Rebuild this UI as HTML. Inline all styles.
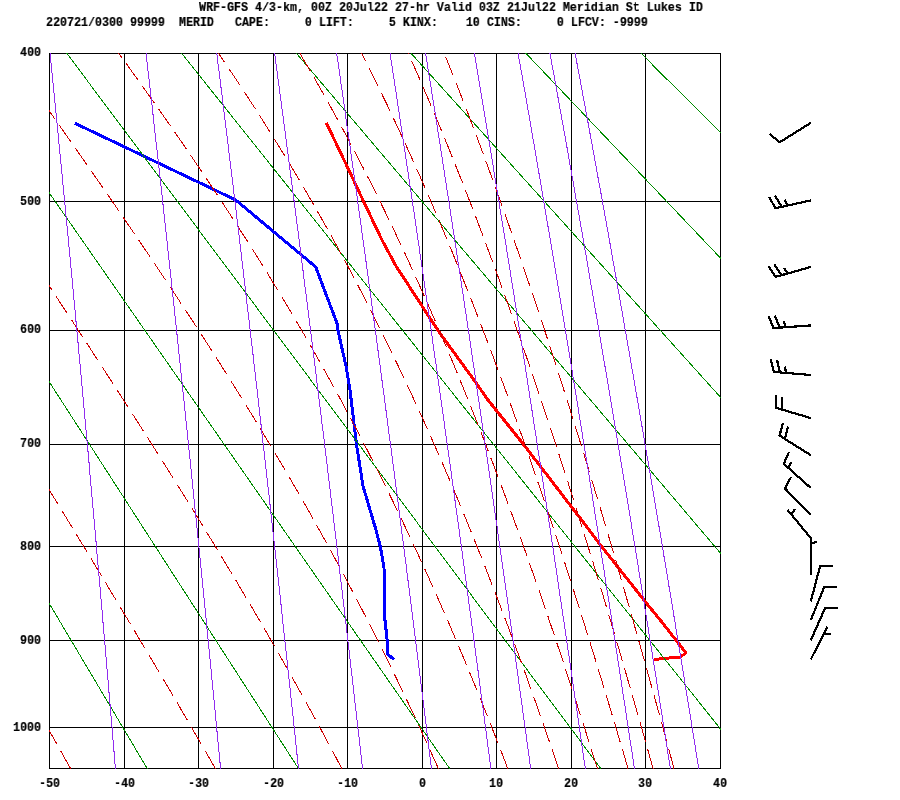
<!DOCTYPE html>
<html><head><meta charset="utf-8"><title>Sounding</title>
<style>
html,body{margin:0;padding:0;background:#fff;}
body{width:900px;height:800px;position:relative;overflow:hidden;font-family:"Liberation Mono",monospace;}
svg{position:absolute;left:0;top:0;}
.t{position:absolute;font-family:"Liberation Mono",monospace;font-weight:bold;font-size:13.6px;line-height:12px;height:12px;white-space:pre;color:#000;transform-origin:0 0;transform:scaleX(0.8578);letter-spacing:0;will-change:transform;-webkit-text-stroke:0.2px #000;}
</style></head><body>

<svg width="900" height="800" viewBox="0 0 900 800" shape-rendering="crispEdges">
<defs><clipPath id="c"><rect x="49" y="53" width="672" height="716"/></clipPath></defs>
<path d="M49 53.5 H721 M49 201.5 H721 M49 330.5 H721 M49 444.5 H721 M49 546.5 H721 M49 640.5 H721 M49 727.5 H721 M49 768.5 H721 M49.5 53 V769 M124.5 53 V769 M198.5 53 V769 M273.5 53 V769 M347.5 53 V769 M422.5 53 V769 M496.5 53 V769 M571.5 53 V769 M645.5 53 V769 M720.5 53 V769" stroke="#000" stroke-width="1" fill="none"/>
<path d="M75.0 123.3 L235.7 200.0 L315.7 266.9 L337.0 323.3 L338.0 330.5 L346.3 367.5 L350.0 390.0 L356.5 444.5 L363.0 486.0 L376.0 530.0 L380.3 546.5 L384.0 567.5 L384.7 617.5 L387.2 640.5 L388.0 654.5 L394.0 659.5" stroke="#0000ff" stroke-width="3" fill="none" stroke-linejoin="round"/>
<path d="M326.4 123.0 L345.0 162.0 L363.6 201.5 L382.0 240.0 L396.0 266.0 L438.0 330.5 L474.0 380.0 L488.0 400.0 L523.6 444.5 L581.6 520.0 L601.6 546.5 L645.5 602.0 L661.0 621.0 L679.0 644.0 L686.0 653.0 L680.0 657.0 L654.4 659.4" stroke="#ff0000" stroke-width="3" fill="none" stroke-linejoin="round"/>
<g clip-path="url(#c)" fill="none" stroke-width="1">
<path d="M-521.5 23.5 L-140.4 798.5 M-408.3 23.5 L12.3 798.5 M-295.1 23.5 L165.0 798.5 M-181.8 23.5 L317.8 798.5 M-68.6 23.5 L470.5 798.5 M44.6 23.5 L623.2 798.5 M157.9 23.5 L775.9 798.5 M271.1 23.5 L928.6 798.5 M384.3 23.5 L1081.4 798.5 M497.6 23.5 L1234.1 798.5 M652.5 65.0 L667.5 80.0 M611.4 23.5 L1387.4 798.5 M724.0 23.5 L1539.5 798.5 M837.3 23.5 L1692.3 798.5 M950.5 23.5 L1845.0 798.5" stroke="#008b00"/>
<path d="M70.7 768.7 L65.6 759.7 L60.7 751.0 M57.0 744.3 L55.5 741.7 L50.5 732.7 L47.0 726.6 M43.3 719.9 L40.3 714.7 L35.3 705.7 L33.3 702.2 M29.5 695.5 L25.1 687.7 L20.1 678.7 L19.5 677.8 M15.8 671.1 L15.0 669.7 L9.9 660.7 L5.8 653.4 M2.0 646.7 L-0.3 642.7 L-5.4 633.7 L-8.0 629.0 M-11.8 622.3 L-15.5 615.7 L-20.6 606.7 L-21.8 604.6 M-25.6 597.9 L-25.7 597.7 L-30.8 588.7 L-35.6 580.3 M-39.4 573.6 L-41.0 570.7 L-46.1 561.7 L-49.4 555.9 M-53.2 549.2 L-56.3 543.7 L-61.4 534.7 L-63.2 531.5 M-67.0 524.8 L-71.6 516.7 L-76.7 507.7 L-77.0 507.2 M-80.8 500.5 L-81.8 498.7 L-86.9 489.7 L-90.8 482.8 M-94.6 476.1 L-97.1 471.7 L-102.2 462.7 L-104.6 458.5 M-108.4 451.8 L-112.4 444.7 L-117.5 435.7 L-118.4 434.1 M-122.2 427.4 L-122.7 426.7 L-127.8 417.7 L-132.2 409.8 M-136.0 403.1 L-138.0 399.7 L-143.1 390.7 L-146.1 385.4 M-149.9 378.7 L-153.3 372.7 L-158.4 363.7 L-159.9 361.1 M-163.7 354.4 L-168.6 345.7 L-173.7 336.7 M-177.5 330.0 L-178.9 327.7 L-184.0 318.7 L-187.6 312.4 M-191.4 305.7 L-194.2 300.7 L-199.3 291.7 L-201.4 288.0 M-205.2 281.3 L-209.5 273.7 L-214.6 264.7 L-215.2 263.7 M-219.0 257.0 L-219.8 255.7 L-224.9 246.7 L-229.0 239.3 M-232.8 232.6 L-235.1 228.7 L-240.2 219.7 L-242.9 215.0 M-246.7 208.3 L-250.4 201.7 L-255.6 192.7 L-256.7 190.7 M-260.5 184.0 L-260.7 183.7 L-265.8 174.7 L-270.5 166.3 M-274.3 159.6 L-276.0 156.7 L-281.1 147.7 L-284.4 142.0 M-288.2 135.3 L-291.3 129.7 L-296.5 120.7 L-298.2 117.6 M-302.0 110.9 L-306.7 102.7 L-311.8 93.7 L-312.0 93.3 M-315.8 86.6 L-316.9 84.7 L-322.0 75.7 L-325.9 68.9 M-329.7 62.2 L-332.3 57.7 L-337.4 48.7 L-339.7 44.6" stroke="#cd0000"/>
<path d="M215.4 768.7 L210.3 759.7 L205.3 751.1 M201.4 744.4 L199.9 741.7 L194.6 732.7 L191.2 726.9 M187.4 720.2 L184.1 714.7 L178.9 705.7 L177.1 702.7 M173.2 696.1 L168.3 687.7 L163.0 678.7 L162.9 678.6 M159.0 672.0 L157.6 669.7 L152.3 660.7 L148.6 654.5 M144.7 647.9 L141.6 642.7 L136.2 633.7 L134.3 630.4 M130.3 623.8 L125.4 615.7 L120.0 606.7 L119.9 606.4 M115.9 599.8 L114.6 597.7 L109.2 588.7 L105.5 582.4 M101.5 575.8 L98.4 570.7 L92.9 561.7 L91.0 558.5 M87.0 551.9 L82.0 543.7 L76.5 534.7 L76.4 534.5 M72.5 528.0 L71.1 525.7 L65.6 516.7 L61.9 510.6 M57.9 504.0 L54.6 498.7 L49.1 489.7 L47.3 486.7 M43.3 480.1 L38.1 471.7 L32.7 462.8 M28.7 456.3 L27.1 453.7 L21.6 444.7 L18.1 438.9 M14.1 432.4 L10.6 426.7 L5.0 417.7 L3.4 415.1 M-0.6 408.5 L-6.0 399.7 L-11.2 391.2 M-15.3 384.7 L-17.1 381.7 L-22.6 372.7 L-25.9 367.4 M-29.9 360.8 L-33.7 354.7 L-39.3 345.7 L-40.6 343.5 M-44.6 337.0 L-44.8 336.7 L-50.4 327.7 L-55.3 319.7 M-59.3 313.2 L-61.5 309.7 L-67.0 300.7 L-70.0 295.9 M-74.0 289.3 L-78.1 282.7 L-83.7 273.7 L-84.7 272.1 M-88.7 265.5 L-89.3 264.7 L-94.8 255.7 L-99.4 248.2 M-103.5 241.7 L-105.9 237.7 L-111.5 228.7 L-114.1 224.4 M-118.2 217.9 L-122.6 210.7 L-128.2 201.7 L-128.9 200.6 M-132.9 194.0 L-133.8 192.7 L-139.3 183.7 L-143.6 176.8 M-147.6 170.2 L-150.5 165.7 L-156.0 156.7 L-158.3 153.0 M-162.4 146.4 L-167.2 138.7 L-172.7 129.7 L-173.0 129.2 M-177.1 122.6 L-178.3 120.7 L-183.9 111.7 L-187.8 105.4 M-191.8 98.8 L-195.0 93.7 L-200.6 84.7 L-202.5 81.5 M-206.6 75.0 L-211.7 66.7 L-217.3 57.7 M-221.3 51.2 L-222.9 48.7 L-228.4 39.7" stroke="#cd0000"/>
<path d="M341.9 768.7 L337.1 759.7 L332.4 750.7 M328.7 743.9 L327.5 741.7 L322.7 732.7 L319.1 726.1 M315.4 719.3 L312.9 714.7 L307.9 705.7 L305.6 701.5 M301.9 694.8 L297.9 687.7 L292.9 678.7 L292.0 677.1 M288.2 670.4 L287.8 669.7 L282.7 660.7 L278.2 652.7 M274.4 646.0 L272.4 642.7 L267.2 633.7 L264.2 628.5 M260.3 621.8 L256.7 615.7 L251.5 606.7 L250.1 604.3 M246.1 597.7 L240.8 588.7 L235.8 580.2 M231.8 573.6 L230.0 570.7 L224.6 561.7 L221.3 556.2 M217.3 549.7 L213.7 543.7 L208.2 534.7 L206.8 532.3 M202.7 525.8 L202.7 525.7 L197.2 516.7 L192.1 508.5 M188.0 501.9 L186.0 498.7 L180.4 489.7 L177.3 484.7 M173.2 478.2 L169.1 471.7 L163.5 462.7 L162.4 461.0 M158.3 454.5 L157.8 453.7 L152.1 444.7 L147.4 437.3 M143.3 430.8 L140.6 426.7 L134.9 417.7 L132.4 413.7 M128.2 407.3 L123.3 399.7 L117.5 390.7 L117.2 390.2 M113.0 383.7 L111.7 381.7 L105.9 372.7 L102.0 366.7 M97.8 360.2 L94.2 354.7 L88.4 345.7 L86.8 343.2 M82.5 336.7 L82.5 336.7 L76.6 327.7 L71.4 319.7 M67.2 313.3 L64.8 309.7 L58.9 300.7 L56.1 296.3 M51.9 289.9 L47.1 282.7 L41.2 273.7 L40.7 272.9 M36.5 266.5 L35.2 264.7 L29.3 255.7 L25.3 249.6 M21.0 243.2 L17.4 237.7 L11.4 228.7 L9.8 226.2 M5.6 219.8 L5.5 219.7 L-0.5 210.7 L-5.7 202.9 M-9.9 196.5 L-12.4 192.7 L-18.4 183.7 L-21.1 179.6 M-25.4 173.2 L-30.4 165.7 L-36.4 156.7 L-36.7 156.3 M-40.9 149.8 L-42.4 147.7 L-48.4 138.7 L-52.2 133.0 M-56.5 126.5 L-60.4 120.7 L-66.4 111.7 L-67.7 109.7 M-72.0 103.3 L-72.4 102.7 L-78.4 93.7 L-83.3 86.4 M-87.5 80.0 L-90.4 75.7 L-96.4 66.7 L-98.8 63.1 M-103.1 56.7 L-108.5 48.7 L-114.4 39.8" stroke="#cd0000"/>
<path d="M438.4 768.7 L434.4 759.7 L430.3 750.7 L430.1 750.2 M426.9 743.2 L426.2 741.7 L422.1 732.7 L418.4 724.7 M415.2 717.7 L413.7 714.7 L409.5 705.7 L406.5 699.4 M403.2 692.4 L400.9 687.7 L396.6 678.7 L394.4 674.1 M391.0 667.2 L387.8 660.7 L383.4 651.7 L382.0 649.0 M378.6 642.1 L374.3 633.7 L369.8 624.7 L369.4 624.0 M365.9 617.2 L365.2 615.7 L360.5 606.7 L356.6 599.1 M353.0 592.3 L351.1 588.7 L346.3 579.7 L343.5 574.4 M339.9 567.6 L336.7 561.7 L331.8 552.7 L330.2 549.7 M326.5 543.0 L321.9 534.7 L316.9 525.7 L316.7 525.2 M312.9 518.5 L311.9 516.7 L306.8 507.7 L302.9 500.8 M299.1 494.2 L296.5 489.7 L291.3 480.7 L288.9 476.6 M285.0 469.9 L280.7 462.7 L275.4 453.7 L274.7 452.5 M270.7 445.9 L270.0 444.7 L264.6 435.7 L260.3 428.5 M256.3 421.9 L253.7 417.7 L248.2 408.7 L245.7 404.6 M241.6 398.0 L237.0 390.7 L231.4 381.7 L230.9 380.8 M226.8 374.3 L225.7 372.7 L220.1 363.7 L215.9 357.1 M211.7 350.7 L208.6 345.7 L202.8 336.7 L200.8 333.6 M196.6 327.1 L191.1 318.7 L185.5 310.1 M181.2 303.7 L179.3 300.7 L173.3 291.7 L170.0 286.8 M165.8 280.3 L161.3 273.7 L155.3 264.7 L154.5 263.5 M150.2 257.1 L149.3 255.7 L143.2 246.7 L138.8 240.3 M134.5 233.9 L131.0 228.7 L124.8 219.7 L123.1 217.1 M118.7 210.8 L118.7 210.7 L112.5 201.7 L107.2 194.0 M102.9 187.7 L100.1 183.7 L93.8 174.7 L91.3 171.0 M86.9 164.7 L81.3 156.7 L75.3 148.0 M70.9 141.7 L68.7 138.7 L62.4 129.7 L59.2 125.1 M54.8 118.8 L49.8 111.7 L43.4 102.7 L43.1 102.2 M38.7 95.9 L37.1 93.7 L30.7 84.7 L27.0 79.3 M22.5 73.1 L18.0 66.7 L11.6 57.7 L10.8 56.5 M6.3 50.2 L5.2 48.7 L-1.2 39.7" stroke="#cd0000"/>
<path d="M507.8 768.7 L504.4 759.7 L500.9 750.7 L500.5 749.7 M497.8 742.6 L497.4 741.7 L493.9 732.7 L490.4 723.7 L490.3 723.7 M487.5 716.5 L486.8 714.7 L483.2 705.7 L479.9 697.7 M477.1 690.5 L475.9 687.7 L472.2 678.7 L469.3 671.7 M466.4 664.6 L464.8 660.7 L461.0 651.7 L458.5 645.9 M455.5 638.8 L453.3 633.7 L449.5 624.7 L447.5 620.2 M444.4 613.1 L441.6 606.7 L437.7 597.7 L436.3 594.5 M433.1 587.5 L429.6 579.7 L425.6 570.7 L424.8 569.0 M421.6 562.0 L421.4 561.7 L417.3 552.7 L413.1 543.7 L413.1 543.6 M409.8 536.6 L408.9 534.7 L404.6 525.7 L401.1 518.3 M397.8 511.3 L396.0 507.7 L391.6 498.7 L388.9 493.1 M385.5 486.2 L382.8 480.7 L378.3 471.7 L376.4 468.0 M372.9 461.1 L369.1 453.7 L364.5 444.7 L363.7 443.1 M360.1 436.2 L359.8 435.7 L355.1 426.7 L350.7 418.3 M347.0 411.5 L345.5 408.7 L340.7 399.7 L337.4 393.6 M333.7 386.9 L330.8 381.7 L325.8 372.7 L323.8 369.1 M320.1 362.4 L315.7 354.7 L310.6 345.7 L310.0 344.7 M306.2 338.1 L305.4 336.7 L300.1 327.7 L295.9 320.5 M292.0 313.9 L289.5 309.7 L284.1 300.7 L281.6 296.5 M277.6 289.9 L273.2 282.7 L267.7 273.7 L267.0 272.6 M263.0 266.0 L262.1 264.7 L256.5 255.7 L252.2 248.8 M248.1 242.3 L245.1 237.7 L239.3 228.7 L237.1 225.2 M232.9 218.8 L227.7 210.7 L221.8 201.8 M217.6 195.4 L215.8 192.7 L209.8 183.7 L206.3 178.5 M202.0 172.1 L197.7 165.7 L191.6 156.7 L190.7 155.3 M186.3 148.9 L185.5 147.7 L179.3 138.7 L174.8 132.2 M170.4 125.9 L166.8 120.7 L160.5 111.7 L158.8 109.2 M154.3 103.0 L154.1 102.7 L147.7 93.7 L142.6 86.4 M138.1 80.1 L134.9 75.7 L128.4 66.7 L126.3 63.6 M121.7 57.4 L115.4 48.7 L109.8 41.0" stroke="#cd0000"/>
<path d="M558.6 768.7 L555.6 759.7 L552.5 750.7 L552.1 749.5 M549.6 742.2 L549.4 741.7 L546.3 732.7 L543.2 723.7 L542.9 723.0 M540.4 715.7 L540.0 714.7 L536.8 705.7 L533.7 696.7 L533.6 696.6 M531.0 689.3 L530.4 687.7 L527.2 678.7 L524.2 670.2 M521.5 663.0 L520.7 660.7 L517.4 651.7 L514.5 644.0 M511.9 636.7 L510.7 633.7 L507.4 624.7 L504.7 617.7 M502.0 610.5 L500.5 606.7 L497.1 597.7 L494.8 591.6 M492.0 584.4 L490.1 579.7 L486.6 570.7 L484.6 565.5 M481.8 558.3 L479.5 552.7 L475.9 543.7 L474.2 539.5 M471.3 532.3 L468.6 525.7 L464.9 516.7 L463.6 513.5 M460.7 506.4 L457.5 498.7 L453.7 489.7 L452.9 487.7 M449.9 480.6 L446.0 471.7 L442.2 462.7 L441.9 461.9 M438.8 454.9 L438.3 453.7 L434.3 444.7 L430.6 436.3 M427.5 429.3 L426.3 426.7 L422.3 417.7 L419.1 410.8 M415.9 403.8 L414.0 399.7 L409.9 390.7 L407.4 385.4 M404.1 378.4 L401.4 372.7 L397.1 363.7 L395.4 360.1 M392.0 353.1 L388.4 345.7 L384.0 336.7 L383.1 334.9 M379.7 328.0 L379.5 327.7 L375.0 318.7 L370.5 309.9 M367.0 303.0 L365.9 300.7 L361.2 291.7 L357.7 285.0 M354.1 278.2 L351.8 273.7 L347.0 264.7 L344.6 260.3 M340.9 253.5 L337.2 246.7 L332.3 237.7 L331.1 235.7 M327.4 229.0 L327.2 228.7 L322.2 219.7 L317.4 211.3 M313.6 204.6 L311.9 201.7 L306.7 192.7 L303.4 187.1 M299.5 180.4 L296.1 174.7 L290.7 165.7 L289.0 163.0 M285.1 156.4 L279.7 147.7 L274.4 139.1 M270.3 132.6 L268.5 129.7 L262.9 120.7 L259.5 115.4 M255.4 108.9 L251.3 102.7 L245.5 93.7 L244.3 91.9 M240.1 85.5 L239.6 84.7 L233.6 75.7 L228.8 68.6 M224.5 62.2 L221.5 57.7 L215.4 48.7 L213.1 45.4" stroke="#cd0000"/>
<path d="M597.4 768.7 L594.6 759.7 L591.7 750.7 L591.3 749.3 M589.0 742.0 L588.9 741.7 L586.1 732.7 L583.2 723.7 L582.9 722.6 M580.5 715.3 L580.3 714.7 L577.4 705.7 L574.5 696.7 L574.3 695.9 M571.9 688.6 L571.6 687.7 L568.7 678.7 L565.7 669.7 L565.6 669.3 M563.2 662.0 L562.8 660.7 L559.8 651.7 L556.8 642.8 M554.4 635.5 L553.8 633.7 L550.7 624.7 L547.9 616.2 M545.4 608.9 L544.6 606.7 L541.5 597.7 L538.8 589.7 M536.2 582.5 L535.3 579.7 L532.1 570.7 L529.5 563.3 M527.0 556.0 L525.8 552.7 L522.6 543.7 L520.1 536.9 M517.5 529.7 L516.1 525.7 L512.8 516.7 L510.6 510.6 M507.9 503.4 L506.2 498.7 L502.8 489.7 L500.9 484.4 M498.1 477.1 L496.1 471.7 L492.7 462.7 L490.9 458.2 M488.2 451.0 L485.8 444.7 L482.3 435.7 L480.9 432.0 M478.1 424.9 L475.2 417.7 L471.6 408.7 L470.6 406.0 M467.7 398.9 L464.4 390.7 L460.7 381.7 L460.1 380.0 M457.2 372.9 L457.1 372.7 L453.3 363.7 L449.6 354.7 L449.4 354.2 M446.4 347.1 L445.8 345.7 L442.0 336.7 L438.4 328.4 M435.4 321.3 L434.2 318.7 L430.3 309.7 L427.3 302.7 M424.1 295.7 L422.4 291.7 L418.3 282.7 L415.8 277.2 M412.6 270.2 L410.1 264.7 L406.0 255.7 L404.1 251.7 M400.9 244.7 L397.5 237.7 L393.3 228.7 L392.2 226.4 M388.8 219.5 L384.6 210.7 L380.2 201.7 L379.9 201.2 M376.5 194.3 L375.7 192.7 L371.2 183.7 L367.4 176.2 M363.9 169.3 L362.0 165.7 L357.4 156.7 L354.5 151.3 M351.0 144.5 L347.9 138.7 L343.1 129.7 L341.4 126.6 M337.7 119.8 L333.3 111.7 L328.3 102.7 L327.9 102.0 M324.2 95.3 L323.2 93.7 L318.1 84.7 L314.1 77.7 M310.3 71.0 L307.7 66.7 L302.4 57.7 L300.0 53.5 M296.0 46.9 L291.7 39.7" stroke="#cd0000"/>
<path d="M628.0 768.7 L625.4 759.7 L622.8 750.7 L622.3 749.2 M620.1 741.8 L620.1 741.7 L617.4 732.7 L614.8 723.7 L614.4 722.4 M612.2 715.0 L612.1 714.7 L609.4 705.7 L606.7 696.7 L606.3 695.5 M604.1 688.2 L603.9 687.7 L601.2 678.7 L598.4 669.7 L598.2 668.7 M595.9 661.4 L595.7 660.7 L592.9 651.7 L590.1 642.7 L589.9 642.0 M587.6 634.6 L587.3 633.7 L584.5 624.7 L581.7 615.7 L581.5 615.3 M579.2 607.9 L578.8 606.7 L576.0 597.7 L573.1 588.7 L573.1 588.6 M570.7 581.3 L570.2 579.7 L567.3 570.7 L564.5 561.9 M562.1 554.6 L561.5 552.7 L558.5 543.7 L555.8 535.3 M553.3 528.0 L552.6 525.7 L549.6 516.7 L546.9 508.8 M544.5 501.5 L543.5 498.7 L540.5 489.7 L537.9 482.2 M535.4 475.0 L534.3 471.7 L531.2 462.7 L528.8 455.8 M526.3 448.5 L524.9 444.7 L521.8 435.7 L519.5 429.3 M517.0 422.1 L515.4 417.7 L512.2 408.7 L510.1 403.0 M507.5 395.7 L505.7 390.7 L502.4 381.7 L500.5 376.7 M497.9 369.5 L495.7 363.7 L492.4 354.7 L490.8 350.4 M488.0 343.2 L485.6 336.7 L482.1 327.7 L480.8 324.3 M478.0 317.1 L475.2 309.7 L471.7 300.7 L470.7 298.2 M467.8 291.0 L464.5 282.7 L460.9 273.7 L460.3 272.1 M457.5 265.0 L457.3 264.7 L453.7 255.7 L450.0 246.7 L449.8 246.2 M446.8 239.1 L446.3 237.7 L442.5 228.7 L439.0 220.4 M436.0 213.3 L434.9 210.7 L431.0 201.7 L428.0 194.6 M424.9 187.6 L423.2 183.7 L419.3 174.7 L416.7 169.0 M413.6 162.0 L411.2 156.7 L407.1 147.7 L405.2 143.5 M402.0 136.5 L398.8 129.7 L394.6 120.7 L393.4 118.1 M390.1 111.1 L386.1 102.7 L381.7 93.7 L381.3 92.8 M377.9 85.9 L377.4 84.7 L372.9 75.7 L368.9 67.7 M365.5 60.8 L363.9 57.7 L359.3 48.7 L356.2 42.7" stroke="#cd0000"/>
<path d="M653.1 768.7 L650.6 759.7 L648.1 750.7 L647.6 749.1 M645.5 741.7 L645.5 741.7 L643.0 732.7 L640.4 723.7 L640.0 722.2 M637.9 714.8 L637.9 714.7 L635.3 705.7 L632.7 696.7 L632.3 695.3 M630.2 687.9 L630.1 687.7 L627.5 678.7 L624.9 669.7 L624.5 668.4 M622.4 661.0 L622.3 660.7 L619.7 651.7 L617.0 642.7 L616.7 641.5 M614.5 634.1 L614.4 633.7 L611.7 624.7 L609.0 615.7 L608.7 614.6 M606.5 607.3 L606.4 606.7 L603.7 597.7 L601.0 588.7 L600.7 587.8 M598.5 580.4 L598.2 579.7 L595.5 570.7 L592.8 561.7 L592.6 561.0 M590.3 553.7 L590.0 552.7 L587.2 543.7 L584.4 534.7 L584.3 534.3 M582.0 526.9 L581.6 525.7 L578.8 516.7 L576.0 507.7 L576.0 507.5 M573.7 500.2 L573.2 498.7 L570.3 489.7 L567.5 480.8 M565.2 473.5 L564.6 471.7 L561.7 462.7 L558.9 454.2 M556.6 446.9 L555.9 444.7 L552.9 435.7 L550.3 427.6 M547.8 420.3 L547.0 417.7 L544.0 408.7 L541.4 401.0 M539.0 393.7 L538.0 390.7 L534.9 381.7 L532.5 374.5 M530.0 367.2 L528.8 363.7 L525.7 354.7 L523.4 348.0 M520.9 340.7 L519.5 336.7 L516.3 327.7 L514.1 321.6 M511.6 314.3 L509.9 309.7 L506.7 300.7 L504.8 295.2 M502.1 287.9 L500.2 282.7 L497.0 273.7 L495.2 268.9 M492.5 261.6 L490.3 255.7 L487.0 246.7 L485.5 242.6 M482.8 235.4 L480.2 228.7 L476.8 219.7 L475.6 216.4 M472.8 209.2 L469.9 201.7 L466.4 192.7 L465.5 190.3 M462.7 183.1 L459.3 174.7 L455.7 165.7 L455.2 164.3 M452.3 157.1 L452.1 156.7 L448.5 147.7 L444.8 138.7 L444.7 138.3 M441.7 131.2 L441.1 129.7 L437.4 120.7 L433.9 112.4 M430.9 105.4 L429.8 102.7 L425.9 93.7 L422.9 86.7 M419.9 79.6 L418.2 75.7 L414.2 66.7 L411.7 61.0 M408.6 54.0 L406.2 48.7 L402.1 39.7" stroke="#cd0000"/>
<path d="M674.0 768.7 L671.6 759.7 L669.2 750.7 L668.7 749.1 M666.7 741.6 L664.3 732.7 L661.8 723.7 L661.4 722.1 M659.4 714.6 L656.9 705.7 L654.4 696.7 L654.0 695.1 M651.9 687.6 L649.4 678.7 L646.9 669.7 L646.5 668.1 M644.4 660.7 L641.9 651.7 L639.3 642.7 L638.9 641.1 M636.8 633.7 L636.8 633.7 L634.2 624.7 L631.7 615.7 L631.3 614.2 M629.1 606.8 L629.1 606.7 L626.5 597.7 L623.9 588.7 L623.5 587.3 M621.4 579.9 L621.3 579.7 L618.7 570.7 L616.1 561.7 L615.7 560.4 M613.6 553.0 L613.5 552.7 L610.8 543.7 L608.2 534.7 L607.8 533.5 M605.7 526.1 L605.5 525.7 L602.8 516.7 L600.2 507.7 L599.9 506.7 M597.6 499.3 L597.5 498.7 L594.7 489.7 L592.0 480.7 L591.8 479.9 M589.5 472.5 L589.3 471.7 L586.5 462.7 L583.8 453.7 L583.6 453.1 M581.3 445.7 L581.0 444.7 L578.2 435.7 L575.4 426.7 L575.3 426.3 M573.0 419.0 L572.6 417.7 L569.8 408.7 L567.0 399.7 L566.9 399.6 M564.6 392.3 L564.1 390.7 L561.2 381.7 L558.5 372.9 M556.1 365.6 L555.5 363.7 L552.6 354.7 L549.8 346.3 M547.5 339.0 L546.7 336.7 L543.8 327.7 L541.1 319.7 M538.7 312.4 L537.8 309.7 L534.8 300.7 L532.3 293.1 M529.8 285.8 L528.7 282.7 L525.7 273.7 L523.3 266.6 M520.8 259.3 L519.5 255.7 L516.4 246.7 L514.1 240.2 M511.6 232.9 L510.1 228.7 L507.0 219.7 L504.9 213.7 M502.3 206.5 L500.6 201.7 L497.3 192.7 L495.4 187.4 M492.8 180.1 L490.8 174.7 L487.5 165.7 L485.8 161.1 M483.2 153.8 L480.9 147.7 L477.5 138.7 L476.0 134.8 M473.3 127.6 L470.7 120.7 L467.3 111.7 L466.1 108.7 M463.3 101.5 L460.3 93.7 L456.8 84.7 L455.9 82.6 M453.1 75.4 L449.6 66.7 L446.0 57.7 L445.6 56.6 M442.7 49.4 L442.4 48.7 L438.7 39.7" stroke="#cd0000"/>
<path d="M47.1 23.5 L48.1 33.5 L49.1 43.5 L50.1 53.5 L51.1 63.5 L52.1 73.5 L53.1 83.5 L54.1 93.5 L55.1 103.5 L56.1 113.5 L57.1 123.5 L58.1 133.5 L59.0 143.5 L60.0 153.5 L61.0 163.5 L62.0 173.5 L62.9 183.5 L63.9 193.5 L64.9 203.5 L65.8 213.5 L66.8 223.5 L67.8 233.5 L68.7 243.5 L69.7 253.5 L70.6 263.5 L71.6 273.5 L72.5 283.5 L73.4 293.5 L74.4 303.5 L75.3 313.5 L76.2 323.5 L77.2 333.5 L78.1 343.5 L79.0 353.5 L80.0 363.5 L80.9 373.5 L81.8 383.5 L82.7 393.5 L83.6 403.5 L84.5 413.5 L85.4 423.5 L86.3 433.5 L87.3 443.5 L88.2 453.5 L89.1 463.5 L89.9 473.5 L90.8 483.5 L91.7 493.5 L92.6 503.5 L93.5 513.5 L94.4 523.5 L95.3 533.5 L96.2 543.5 L97.0 553.5 L97.9 563.5 L98.8 573.5 L99.7 583.5 L100.5 593.5 L101.4 603.5 L102.3 613.5 L103.1 623.5 L104.0 633.5 L104.9 643.5 L105.7 653.5 L106.6 663.5 L107.4 673.5 L108.3 683.5 L109.1 693.5 L110.0 703.5 L110.8 713.5 L111.7 723.5 L112.5 733.5 L113.3 743.5 L114.2 753.5 L115.0 763.5 L115.8 773.5 L116.7 783.5 L117.5 793.5 M142.6 23.5 L143.8 33.5 L144.9 43.5 L146.1 53.5 L147.2 63.5 L148.3 73.5 L149.5 83.5 L150.6 93.5 L151.8 103.5 L152.9 113.5 L154.0 123.5 L155.1 133.5 L156.2 143.5 L157.4 153.5 L158.5 163.5 L159.6 173.5 L160.7 183.5 L161.8 193.5 L162.9 203.5 L164.0 213.5 L165.1 223.5 L166.2 233.5 L167.3 243.5 L168.3 253.5 L169.4 263.5 L170.5 273.5 L171.6 283.5 L172.6 293.5 L173.7 303.5 L174.8 313.5 L175.8 323.5 L176.9 333.5 L178.0 343.5 L179.0 353.5 L180.1 363.5 L181.1 373.5 L182.2 383.5 L183.2 393.5 L184.3 403.5 L185.3 413.5 L186.3 423.5 L187.4 433.5 L188.4 443.5 L189.4 453.5 L190.5 463.5 L191.5 473.5 L192.5 483.5 L193.5 493.5 L194.5 503.5 L195.5 513.5 L196.6 523.5 L197.6 533.5 L198.6 543.5 L199.6 553.5 L200.6 563.5 L201.6 573.5 L202.6 583.5 L203.6 593.5 L204.6 603.5 L205.6 613.5 L206.5 623.5 L207.5 633.5 L208.5 643.5 L209.5 653.5 L210.5 663.5 L211.4 673.5 L212.4 683.5 L213.4 693.5 L214.4 703.5 L215.3 713.5 L216.3 723.5 L217.2 733.5 L218.2 743.5 L219.2 753.5 L220.1 763.5 L221.1 773.5 L222.0 783.5 L223.0 793.5 M213.0 23.5 L214.3 33.5 L215.5 43.5 L216.8 53.5 L218.0 63.5 L219.3 73.5 L220.5 83.5 L221.8 93.5 L223.0 103.5 L224.2 113.5 L225.5 123.5 L226.7 133.5 L227.9 143.5 L229.1 153.5 L230.3 163.5 L231.6 173.5 L232.8 183.5 L234.0 193.5 L235.2 203.5 L236.4 213.5 L237.6 223.5 L238.8 233.5 L240.0 243.5 L241.2 253.5 L242.3 263.5 L243.5 273.5 L244.7 283.5 L245.9 293.5 L247.0 303.5 L248.2 313.5 L249.4 323.5 L250.5 333.5 L251.7 343.5 L252.9 353.5 L254.0 363.5 L255.2 373.5 L256.3 383.5 L257.5 393.5 L258.6 403.5 L259.7 413.5 L260.9 423.5 L262.0 433.5 L263.1 443.5 L264.3 453.5 L265.4 463.5 L266.5 473.5 L267.6 483.5 L268.8 493.5 L269.9 503.5 L271.0 513.5 L272.1 523.5 L273.2 533.5 L274.3 543.5 L275.4 553.5 L276.5 563.5 L277.6 573.5 L278.7 583.5 L279.8 593.5 L280.9 603.5 L282.0 613.5 L283.0 623.5 L284.1 633.5 L285.2 643.5 L286.3 653.5 L287.4 663.5 L288.4 673.5 L289.5 683.5 L290.6 693.5 L291.6 703.5 L292.7 713.5 L293.8 723.5 L294.8 733.5 L295.9 743.5 L296.9 753.5 L298.0 763.5 L299.0 773.5 L300.1 783.5 L301.1 793.5 M270.6 23.5 L272.0 33.5 L273.3 43.5 L274.7 53.5 L276.0 63.5 L277.3 73.5 L278.7 83.5 L280.0 93.5 L281.3 103.5 L282.7 113.5 L284.0 123.5 L285.3 133.5 L286.6 143.5 L287.9 153.5 L289.2 163.5 L290.5 173.5 L291.8 183.5 L293.1 193.5 L294.4 203.5 L295.7 213.5 L297.0 223.5 L298.3 233.5 L299.6 243.5 L300.8 253.5 L302.1 263.5 L303.4 273.5 L304.6 283.5 L305.9 293.5 L307.2 303.5 L308.4 313.5 L309.7 323.5 L310.9 333.5 L312.2 343.5 L313.4 353.5 L314.7 363.5 L315.9 373.5 L317.1 383.5 L318.4 393.5 L319.6 403.5 L320.8 413.5 L322.0 423.5 L323.3 433.5 L324.5 443.5 L325.7 453.5 L326.9 463.5 L328.1 473.5 L329.3 483.5 L330.5 493.5 L331.7 503.5 L332.9 513.5 L334.1 523.5 L335.3 533.5 L336.5 543.5 L337.7 553.5 L338.8 563.5 L340.0 573.5 L341.2 583.5 L342.4 593.5 L343.6 603.5 L344.7 613.5 L345.9 623.5 L347.1 633.5 L348.2 643.5 L349.4 653.5 L350.5 663.5 L351.7 673.5 L352.8 683.5 L354.0 693.5 L355.1 703.5 L356.3 713.5 L357.4 723.5 L358.6 733.5 L359.7 743.5 L360.8 753.5 L362.0 763.5 L363.1 773.5 L364.2 783.5 L365.3 793.5 M332.3 23.5 L333.8 33.5 L335.3 43.5 L336.7 53.5 L338.2 63.5 L339.6 73.5 L341.0 83.5 L342.5 93.5 L343.9 103.5 L345.3 113.5 L346.7 123.5 L348.2 133.5 L349.6 143.5 L351.0 153.5 L352.4 163.5 L353.8 173.5 L355.2 183.5 L356.6 193.5 L358.0 203.5 L359.4 213.5 L360.8 223.5 L362.1 233.5 L363.5 243.5 L364.9 253.5 L366.3 263.5 L367.6 273.5 L369.0 283.5 L370.4 293.5 L371.7 303.5 L373.1 313.5 L374.4 323.5 L375.8 333.5 L377.1 343.5 L378.4 353.5 L379.8 363.5 L381.1 373.5 L382.4 383.5 L383.8 393.5 L385.1 403.5 L386.4 413.5 L387.7 423.5 L389.0 433.5 L390.4 443.5 L391.7 453.5 L393.0 463.5 L394.3 473.5 L395.6 483.5 L396.9 493.5 L398.2 503.5 L399.5 513.5 L400.7 523.5 L402.0 533.5 L403.3 543.5 L404.6 553.5 L405.9 563.5 L407.1 573.5 L408.4 583.5 L409.7 593.5 L410.9 603.5 L412.2 613.5 L413.5 623.5 L414.7 633.5 L416.0 643.5 L417.2 653.5 L418.5 663.5 L419.7 673.5 L421.0 683.5 L422.2 693.5 L423.4 703.5 L424.7 713.5 L425.9 723.5 L427.1 733.5 L428.4 743.5 L429.6 753.5 L430.8 763.5 L432.0 773.5 L433.2 783.5 L434.5 793.5 M385.4 23.5 L387.0 33.5 L388.5 43.5 L390.1 53.5 L391.6 63.5 L393.1 73.5 L394.7 83.5 L396.2 93.5 L397.7 103.5 L399.2 113.5 L400.7 123.5 L402.2 133.5 L403.7 143.5 L405.2 153.5 L406.7 163.5 L408.2 173.5 L409.7 183.5 L411.2 193.5 L412.7 203.5 L414.2 213.5 L415.6 223.5 L417.1 233.5 L418.6 243.5 L420.0 253.5 L421.5 263.5 L422.9 273.5 L424.4 283.5 L425.8 293.5 L427.3 303.5 L428.7 313.5 L430.2 323.5 L431.6 333.5 L433.0 343.5 L434.4 353.5 L435.9 363.5 L437.3 373.5 L438.7 383.5 L440.1 393.5 L441.5 403.5 L442.9 413.5 L444.3 423.5 L445.7 433.5 L447.1 443.5 L448.5 453.5 L449.9 463.5 L451.3 473.5 L452.7 483.5 L454.1 493.5 L455.4 503.5 L456.8 513.5 L458.2 523.5 L459.6 533.5 L460.9 543.5 L462.3 553.5 L463.6 563.5 L465.0 573.5 L466.4 583.5 L467.7 593.5 L469.0 603.5 L470.4 613.5 L471.7 623.5 L473.1 633.5 L474.4 643.5 L475.7 653.5 L477.1 663.5 L478.4 673.5 L479.7 683.5 L481.0 693.5 L482.4 703.5 L483.7 713.5 L485.0 723.5 L486.3 733.5 L487.6 743.5 L488.9 753.5 L490.2 763.5 L491.5 773.5 L492.8 783.5 L494.1 793.5 M420.8 23.5 L422.4 33.5 L424.0 43.5 L425.6 53.5 L427.2 63.5 L428.8 73.5 L430.4 83.5 L432.0 93.5 L433.6 103.5 L435.2 113.5 L436.7 123.5 L438.3 133.5 L439.9 143.5 L441.4 153.5 L443.0 163.5 L444.5 173.5 L446.1 183.5 L447.6 193.5 L449.2 203.5 L450.7 213.5 L452.2 223.5 L453.8 233.5 L455.3 243.5 L456.8 253.5 L458.3 263.5 L459.9 273.5 L461.4 283.5 L462.9 293.5 L464.4 303.5 L465.9 313.5 L467.4 323.5 L468.9 333.5 L470.3 343.5 L471.8 353.5 L473.3 363.5 L474.8 373.5 L476.3 383.5 L477.7 393.5 L479.2 403.5 L480.7 413.5 L482.1 423.5 L483.6 433.5 L485.0 443.5 L486.5 453.5 L487.9 463.5 L489.4 473.5 L490.8 483.5 L492.3 493.5 L493.7 503.5 L495.1 513.5 L496.6 523.5 L498.0 533.5 L499.4 543.5 L500.8 553.5 L502.2 563.5 L503.7 573.5 L505.1 583.5 L506.5 593.5 L507.9 603.5 L509.3 613.5 L510.7 623.5 L512.1 633.5 L513.5 643.5 L514.9 653.5 L516.2 663.5 L517.6 673.5 L519.0 683.5 L520.4 693.5 L521.8 703.5 L523.1 713.5 L524.5 723.5 L525.9 733.5 L527.2 743.5 L528.6 753.5 L530.0 763.5 L531.3 773.5 L532.7 783.5 L534.0 793.5 M469.3 23.5 L471.0 33.5 L472.7 43.5 L474.4 53.5 L476.1 63.5 L477.8 73.5 L479.4 83.5 L481.1 93.5 L482.8 103.5 L484.5 113.5 L486.1 123.5 L487.8 133.5 L489.4 143.5 L491.1 153.5 L492.7 163.5 L494.3 173.5 L496.0 183.5 L497.6 193.5 L499.2 203.5 L500.8 213.5 L502.5 223.5 L504.1 233.5 L505.7 243.5 L507.3 253.5 L508.9 263.5 L510.5 273.5 L512.1 283.5 L513.7 293.5 L515.3 303.5 L516.8 313.5 L518.4 323.5 L520.0 333.5 L521.6 343.5 L523.1 353.5 L524.7 363.5 L526.3 373.5 L527.8 383.5 L529.4 393.5 L530.9 403.5 L532.5 413.5 L534.0 423.5 L535.6 433.5 L537.1 443.5 L538.6 453.5 L540.2 463.5 L541.7 473.5 L543.2 483.5 L544.7 493.5 L546.2 503.5 L547.8 513.5 L549.3 523.5 L550.8 533.5 L552.3 543.5 L553.8 553.5 L555.3 563.5 L556.8 573.5 L558.3 583.5 L559.7 593.5 L561.2 603.5 L562.7 613.5 L564.2 623.5 L565.7 633.5 L567.1 643.5 L568.6 653.5 L570.1 663.5 L571.5 673.5 L573.0 683.5 L574.4 693.5 L575.9 703.5 L577.3 713.5 L578.8 723.5 L580.2 733.5 L581.7 743.5 L583.1 753.5 L584.6 763.5 L586.0 773.5 L587.4 783.5 L588.9 793.5 M512.8 23.5 L514.6 33.5 L516.4 43.5 L518.1 53.5 L519.9 63.5 L521.7 73.5 L523.4 83.5 L525.2 93.5 L526.9 103.5 L528.7 113.5 L530.4 123.5 L532.1 133.5 L533.9 143.5 L535.6 153.5 L537.3 163.5 L539.0 173.5 L540.7 183.5 L542.4 193.5 L544.1 203.5 L545.8 213.5 L547.5 223.5 L549.2 233.5 L550.9 243.5 L552.6 253.5 L554.3 263.5 L556.0 273.5 L557.6 283.5 L559.3 293.5 L561.0 303.5 L562.6 313.5 L564.3 323.5 L565.9 333.5 L567.6 343.5 L569.2 353.5 L570.9 363.5 L572.5 373.5 L574.1 383.5 L575.8 393.5 L577.4 403.5 L579.0 413.5 L580.6 423.5 L582.2 433.5 L583.8 443.5 L585.5 453.5 L587.1 463.5 L588.7 473.5 L590.3 483.5 L591.9 493.5 L593.4 503.5 L595.0 513.5 L596.6 523.5 L598.2 533.5 L599.8 543.5 L601.3 553.5 L602.9 563.5 L604.5 573.5 L606.0 583.5 L607.6 593.5 L609.2 603.5 L610.7 613.5 L612.3 623.5 L613.8 633.5 L615.4 643.5 L616.9 653.5 L618.4 663.5 L620.0 673.5 L621.5 683.5 L623.0 693.5 L624.6 703.5 L626.1 713.5 L627.6 723.5 L629.1 733.5 L630.6 743.5 L632.2 753.5 L633.7 763.5 L635.2 773.5 L636.7 783.5 L638.2 793.5 M544.5 23.5 L546.4 33.5 L548.2 43.5 L550.0 53.5 L551.8 63.5 L553.7 73.5 L555.5 83.5 L557.3 93.5 L559.1 103.5 L560.9 113.5 L562.7 123.5 L564.5 133.5 L566.3 143.5 L568.1 153.5 L569.8 163.5 L571.6 173.5 L573.4 183.5 L575.1 193.5 L576.9 203.5 L578.7 213.5 L580.4 223.5 L582.2 233.5 L583.9 243.5 L585.7 253.5 L587.4 263.5 L589.1 273.5 L590.8 283.5 L592.6 293.5 L594.3 303.5 L596.0 313.5 L597.7 323.5 L599.4 333.5 L601.1 343.5 L602.8 353.5 L604.5 363.5 L606.2 373.5 L607.9 383.5 L609.6 393.5 L611.3 403.5 L613.0 413.5 L614.6 423.5 L616.3 433.5 L618.0 443.5 L619.6 453.5 L621.3 463.5 L623.0 473.5 L624.6 483.5 L626.3 493.5 L627.9 503.5 L629.6 513.5 L631.2 523.5 L632.8 533.5 L634.5 543.5 L636.1 553.5 L637.7 563.5 L639.3 573.5 L641.0 583.5 L642.6 593.5 L644.2 603.5 L645.8 613.5 L647.4 623.5 L649.0 633.5 L650.6 643.5 L652.2 653.5 L653.8 663.5 L655.4 673.5 L657.0 683.5 L658.6 693.5 L660.1 703.5 L661.7 713.5 L663.3 723.5 L664.9 733.5 L666.4 743.5 L668.0 753.5 L669.6 763.5 L671.1 773.5 L672.7 783.5 L674.2 793.5 M569.5 23.5 L571.4 33.5 L573.3 43.5 L575.2 53.5 L577.0 63.5 L578.9 73.5 L580.8 83.5 L582.6 93.5 L584.5 103.5 L586.3 113.5 L588.2 123.5 L590.0 133.5 L591.9 143.5 L593.7 153.5 L595.5 163.5 L597.3 173.5 L599.1 183.5 L601.0 193.5 L602.8 203.5 L604.6 213.5 L606.4 223.5 L608.2 233.5 L610.0 243.5 L611.7 253.5 L613.5 263.5 L615.3 273.5 L617.1 283.5 L618.9 293.5 L620.6 303.5 L622.4 313.5 L624.1 323.5 L625.9 333.5 L627.6 343.5 L629.4 353.5 L631.1 363.5 L632.9 373.5 L634.6 383.5 L636.3 393.5 L638.1 403.5 L639.8 413.5 L641.5 423.5 L643.2 433.5 L644.9 443.5 L646.6 453.5 L648.4 463.5 L650.1 473.5 L651.8 483.5 L653.4 493.5 L655.1 503.5 L656.8 513.5 L658.5 523.5 L660.2 533.5 L661.9 543.5 L663.5 553.5 L665.2 563.5 L666.9 573.5 L668.5 583.5 L670.2 593.5 L671.9 603.5 L673.5 613.5 L675.2 623.5 L676.8 633.5 L678.5 643.5 L680.1 653.5 L681.7 663.5 L683.4 673.5 L685.0 683.5 L686.6 693.5 L688.2 703.5 L689.9 713.5 L691.5 723.5 L693.1 733.5 L694.7 743.5 L696.3 753.5 L697.9 763.5 L699.5 773.5 L701.1 783.5 L702.7 793.5" stroke="#912cee"/>
</g>
<path d="M810.8 122.8 L779.6 142.3 L769.7 134.0 M810.8 200.4 L775.6 208.2 L769.0 197.1 M781.7 206.8 L775.1 195.7 M787.8 205.5 L784.5 199.9 M810.8 266.9 L775.6 276.9 L768.4 266.2 M781.6 275.2 L774.4 264.5 M787.6 273.5 L784.0 268.1 M810.8 325.4 L773.5 328.1 L768.6 316.1 M779.7 327.6 L774.9 315.7 M786.0 327.2 L783.5 321.2 M810.8 375.0 L773.8 371.9 L770.8 359.3 M780.0 372.4 L777.0 359.8 M786.2 372.9 L784.7 366.6 M810.8 418.1 L775.9 407.8 L775.6 394.8 M781.9 409.5 L781.6 396.6 M810.8 455.2 L779.6 435.6 L782.8 423.1 M784.9 438.9 L788.1 426.4 M810.8 488.0 L783.8 463.8 L789.0 451.9 M788.4 467.9 L791.0 462.0 M810.8 515.0 L785.0 488.5 L791.0 477.1 M810.8 538.1 L787.5 509.8 M791.5 514.6 L794.9 509.1 M810.8 575.3 L810.9 537.5 M810.9 543.7 L817.0 541.8 M810.8 601.4 L820.2 565.7 L832.7 565.7 M810.8 620.2 L824.3 586.7 L836.7 586.7 M810.8 640.4 L825.2 607.7 L837.9 607.7 M810.8 659.4 L827.4 626.5 M824.0 633.7 L830.7 633.7" stroke="#000" stroke-width="2.2" fill="none" stroke-linejoin="round"/>
</svg>
<div class="t" style="left:199.0px;top:2.0px">WRF-GFS 4/3-km, 00Z 20Jul22 27-hr Valid 03Z 21Jul22 Meridian St Lukes ID</div>
<div class="t" style="left:46.0px;top:17.0px">220721/0300 99999  MERID   CAPE:     0 LIFT:     5 KINX:    10 CINS:     0 LFCV: -9999</div>
<div class="t" style="left:19.5px;top:47.0px">400</div>
<div class="t" style="left:19.5px;top:196.0px">500</div>
<div class="t" style="left:19.5px;top:324.0px">600</div>
<div class="t" style="left:19.5px;top:438.0px">700</div>
<div class="t" style="left:19.5px;top:541.0px">800</div>
<div class="t" style="left:19.5px;top:635.0px">900</div>
<div class="t" style="left:12.5px;top:722.0px">1000</div>
<div class="t" style="left:38.5px;top:778.0px">-50</div>
<div class="t" style="left:113.5px;top:778.0px">-40</div>
<div class="t" style="left:187.5px;top:778.0px">-30</div>
<div class="t" style="left:262.5px;top:778.0px">-20</div>
<div class="t" style="left:336.5px;top:778.0px">-10</div>
<div class="t" style="left:418.5px;top:778.0px">0</div>
<div class="t" style="left:489.0px;top:778.0px">10</div>
<div class="t" style="left:564.0px;top:778.0px">20</div>
<div class="t" style="left:638.0px;top:778.0px">30</div>
<div class="t" style="left:713.0px;top:778.0px">40</div>
</body></html>
